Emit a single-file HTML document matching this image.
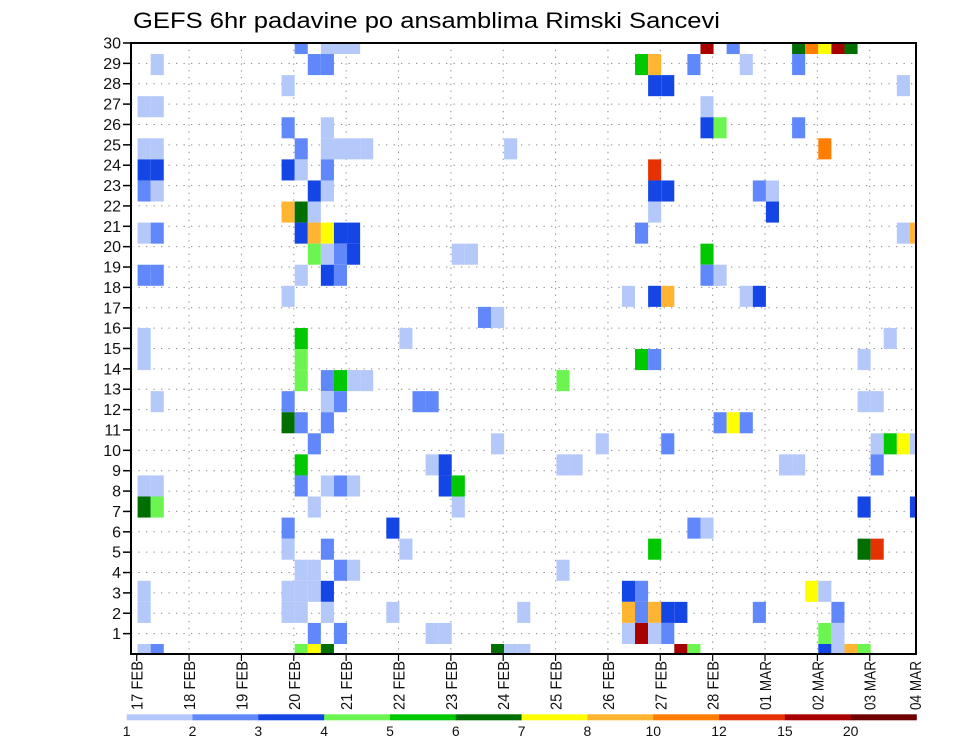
<!DOCTYPE html>
<html>
<head>
<meta charset="utf-8">
<style>
  html,body{margin:0;padding:0;background:#fff;}
  svg{display:block;font-family:"Liberation Sans",sans-serif;}
</style>
</head>
<body>
<svg id="chart" width="960" height="742" viewBox="0 0 960 742" xmlns="http://www.w3.org/2000/svg">
  <defs>
    <clipPath id="plotclip"><rect x="131" y="43" width="785" height="611"/></clipPath>
  </defs>
  <text x="133" y="28" font-size="22" textLength="587" lengthAdjust="spacingAndGlyphs" fill="#000">GEFS 6hr padavine po ansamblima Rimski Sancevi</text>
  <g id="grid"></g>
  <g id="cells" clip-path="url(#plotclip)"></g>
  <rect x="131" y="43" width="785" height="611" fill="none" stroke="#000" stroke-width="2"/>
  <g id="yaxis"></g>
  <g id="xaxis"></g>
  <g id="legend"></g>
</svg>
<script>
// ---- data ----
const dayLabels = ["17 FEB","18 FEB","19 FEB","20 FEB","21 FEB","22 FEB","23 FEB","24 FEB","25 FEB","26 FEB","27 FEB","28 FEB","01 MAR","02 MAR","03 MAR","04 MAR"];
const memberTicks = [1,2,3,4,5,6,7,8,9,10,11,12,13,14,15,16,17,18,19,20,21,22,23,24,25,26,27,28,29,30];
const levelLabels = [1,2,3,4,5,6,7,8,10,12,15,20];
const levelColors = ["#b4c8fa","#6088fa","#1446e6","#6cf550","#00c800","#006e00","#ffff00","#ffb432","#ff7d00","#e63200","#a80000","#700000"];
// cells: time step (6h from 17 FEB 00Z), member row from top, precipitation (mm)
const cellStep = [
12,14,15,16, 1,13,14, 11, 0,1, 11,14, 0,1,12,14,15,16,17, 0,1,11,12,14, 0,1,13,14, 11,12,13, 0,1,12,13,14,15,16, 13,14,15,16,
0,1,12,14,15, 11, 0,12, 0,12, 12,14,15,16,17, 1,11,14,15, 11,12,14, 13,
12, 0,1,12,14,15,16, 0,1,13, 11,19, 11,14, 12,13,15,16, 0,11,12,13,14, 0,11,12,14,19, 13,15, 0,1,12,13,14,
38,39, 39, 28, 39, 39, 39, 38, 24,25, 37,39, 26,27, 20,
43,45,50,51,52,53,54, 42,46,50, 40,58, 43, 43,44,50, 52, 40,47,48, 48, 58,59, 43, 43,44, 40,46,47, 57,
38,39, 32, 21,22, 27,35, 22,23,32,33, 23,24, 24, 20,39, 32, 37,38, 29,37,38,39, 22,23,37,38,39, 27,28,29,
55, 55,56, 44,45,46, 40,56,57,58,59, 49,50,56, 55,59, 42,43, 55,56, 51,52, 40,41,47,53, 40,52,53, 41,42,52,53,54,55
];
const cellMember = [
0,0,0,0, 1,1,1, 2, 3,3, 4,4, 5,5,5,5,5,5,5, 6,6,6,6,6, 7,7,7,7, 8,8,8, 9,9,9,9,9,9,9, 10,10,10,10,
11,11,11,11,11, 12, 14,14, 15,15, 16,16,16,16,16, 17,17,17,17, 18,18,18, 19,
20, 21,21,21,21,21,21, 22,22,22, 23,23, 24,24, 25,25,25,25, 26,26,26,26,26, 27,27,27,27,27, 28,28, 29,29,29,29,29,
1,1, 2, 5, 6, 7, 8, 9, 10,10, 12,12, 13,13, 14,
0,0,0,0,0,0,0, 1,1,1, 2,2, 3, 4,4,4, 5, 7,7,7, 8, 9,9, 10, 11,11, 12,12,12, 14,
15,15, 16, 17,17, 19,19, 20,20,20,20, 21,21, 22, 24,24, 25, 26,26, 27,27,27,27, 28,28,28,28,28, 29,29,29,
15, 17,17, 18,18,18, 19,19,19,19,19, 20,20,20, 22,22, 23,23, 24,24, 26,26, 27,27,27,27, 28,28,28, 29,29,29,29,29,29
];
const cellValue = [
2.5,1.5,1.5,1.5, 1.5,2.5,2.5, 1.5, 1.5,1.5, 2.5,1.5, 1.5,1.5,2.5,1.5,1.5,1.5,1.5, 3.5,3.5,3.5,1.5,2.5, 2.5,1.5,3.5,1.5, 9,6.5,1.5, 1.5,2.5,3.5,9,7.5,3.5,3.5, 4.5,1.5,2.5,3.5,
2.5,2.5,1.5,3.5,2.5, 1.5, 1.5,5.5, 1.5,4.5, 4.5,2.5,5.5,1.5,1.5, 1.5,2.5,1.5,2.5, 6.5,2.5,2.5, 2.5,
5.5, 1.5,1.5,2.5,1.5,2.5,1.5, 6.5,4.5,1.5, 2.5,3.5, 1.5,2.5, 1.5,1.5,2.5,1.5, 1.5,1.5,1.5,1.5,3.5, 1.5,1.5,1.5,1.5,1.5, 2.5,2.5, 1.5,2.5,4.5,7.5,6.5,
5.5,9, 3.5, 1.5, 13, 3.5, 1.5, 2.5, 1.5,1.5, 1.5,3.5, 2.5,1.5, 1.5,
17,2.5,6.5,11,7.5,17,6.5, 2.5,1.5,2.5, 3.5,1.5, 1.5, 3.5,4.5,2.5, 11, 3.5,2.5,1.5, 3.5, 1.5,9, 5.5, 2.5,1.5, 9,1.5,3.5, 1.5,
5.5,2.5, 4.5, 2.5,2.5, 1.5,1.5, 1.5,3.5,1.5,1.5, 3.5,5.5, 1.5, 1.5,5.5, 1.5, 3.5,2.5, 1.5,9,2.5,9, 1.5,1.5,1.5,17,1.5, 6.5,1.5,1.5,
1.5, 1.5,1.5, 2.5,7.5,2.5, 2.5,1.5,5.5,7.5,1.5, 1.5,1.5,2.5, 3.5,3.5, 2.5,1.5, 6.5,13, 7.5,1.5, 3.5,3.5,2.5,2.5, 2.5,4.5,1.5, 17,4.5,3.5,1.5,9,4.5
];

// ---- scales ----
const plotL = 131, plotR = 916, plotT = 43, plotB = 654;
const tick0 = 136.7, dayW = 52.36, stepW = 13.09, cellX0 = 137.6;
const rowH = 21.07, rowTop0 = 43.5;
function xStep(k){ return cellX0 + k*stepW; }
function yMember(t){ return rowTop0 + t*rowH - rowH/2; }
function yTick(r){ return plotB - r*(plotB-plotT)/30; }
function xDay(d){ return tick0 + d*dayW; }
function colorFor(v){
  let idx = 0;
  for (let i=0;i<levelLabels.length;i++){ if (v >= levelLabels[i]) idx = i; }
  return levelColors[idx];
}
const NS = "http://www.w3.org/2000/svg";
function mk(tag, attrs, parent){
  const e = document.createElementNS(NS, tag);
  for (const k in attrs) e.setAttribute(k, attrs[k]);
  parent.appendChild(e);
  return e;
}

// grid
const grid = document.getElementById('grid');
for (let r=1;r<30;r++){
  const ln = mk('line',{x1:plotL,x2:plotR,y1:yTick(r),y2:yTick(r),stroke:'#8a8a8a','stroke-width':1,'stroke-dasharray':'1.3 6.2'},grid);
  
  
}
for (let d=1;d<dayLabels.length;d++){
  const x = xDay(d);
  if (x >= plotR) continue;
  const ln = mk('line',{x1:x,x2:x,y1:plotT,y2:plotB,stroke:'#8a8a8a','stroke-width':1,'stroke-dasharray':'1.3 5.5'},grid);
  
  
}

// cells
const cells = document.getElementById('cells');
for (let i=0;i<cellStep.length;i++){
  const rc = mk('rect',{x:xStep(cellStep[i]).toFixed(2),y:yMember(cellMember[i]).toFixed(2),width:stepW,height:rowH,fill:colorFor(cellValue[i])},cells);
  
  
}

// y axis
const ya = document.getElementById('yaxis');
for (let i=0;i<memberTicks.length;i++){
  const r = memberTicks[i];
  const y = yTick(r);
  const tk = mk('line',{x1:123,x2:plotL,y1:y,y2:y,stroke:'#000','stroke-width':1.5},ya);
  
  
  const tx = mk('text',{x:121,y:y+5.5,'font-size':16,'text-anchor':'end',fill:'#111'},ya);
  tx.textContent = String(r);
  
  
}

// x axis
const xa = document.getElementById('xaxis');
for (let d=0;d<dayLabels.length;d++){
  let x = xDay(d);
  if (x < plotR){
    const tk = mk('line',{x1:x,x2:x,y1:plotB,y2:plotB+7,stroke:'#000','stroke-width':1.2},xa);
    
    
  }
  x = Math.min(x, 915);
  const tx = mk('text',{transform:'translate('+(x+6).toFixed(1)+',710) rotate(-90)','font-size':16,textLength:49,lengthAdjust:'spacingAndGlyphs',fill:'#111'},xa);
  tx.textContent = dayLabels[d];
  
  
}

// legend
const lg = document.getElementById('legend');
const segW = (916.5-126.7)/levelColors.length;
for (let i=0;i<levelColors.length;i++){
  const rc = mk('rect',{x:(126.7+i*segW).toFixed(2),y:714.3,width:(segW+0.3).toFixed(2),height:6,fill:levelColors[i]},lg);
  
  
}
for (let i=0;i<levelLabels.length-1+1;i++){
  if (i>=levelLabels.length) break;
  const tx = mk('text',{x:(126.7+i*segW).toFixed(2),y:736,'font-size':14,'text-anchor':'middle',fill:'#111'},lg);
  tx.textContent = String(levelLabels[i]);
  
  
}
</script>
</body>
</html>
